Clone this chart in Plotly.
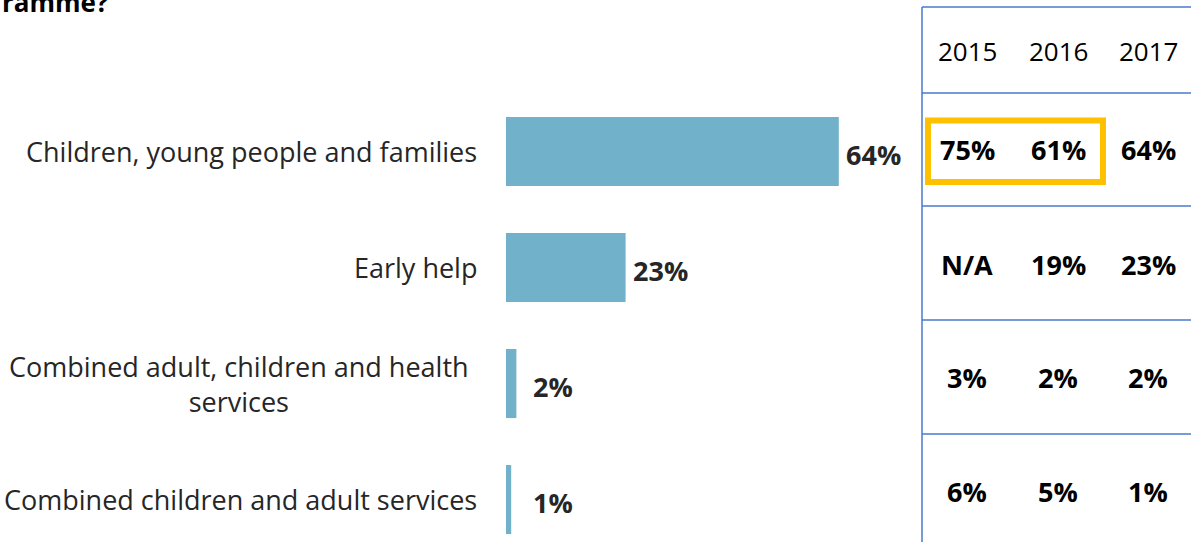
import plotly.graph_objects as go

# Survey data: share of respondents by service area
categories = [
    "Children, young people and families",
    "Early help",
    "Combined adult, children and health<br>services",
    "Combined children and adult services",
]
share_2017 = [64, 23, 2, 1]

# Year-on-year comparison table
years = ["2015", "2016", "2017"]
table_2015 = [75, None, 3, 6]
table_2016 = [61, 19, 2, 5]
table_2017 = [64, 23, 2, 1]

title_fragment = "ramme?"

W, H = 1191, 542
FONT = "Open Sans"
BAR_COLOR = "#71B1C9"
LINE_COLOR = "#4A78CC"
HIGHLIGHT = "#FFC000"
TEXT_DARK = "#262626"


def px(x):
    return x / W


def py(y):
    return 1 - y / H


fig = go.Figure()

fig.add_trace(go.Bar(
    x=share_2017,
    y=categories,
    orientation="h",
    width=0.595,
    marker=dict(color=BAR_COLOR, line=dict(width=0)),
    hoverinfo="skip",
))

annotations = []

# Category labels to the left of the bars
for cat in categories:
    multi = "<br>" in cat
    annotations.append(dict(
        x=px(479 - (8 if multi else 0)), xref="paper", xanchor="right",
        y=cat, yref="y", yanchor="middle",
        text=cat, showarrow=False, align="center",
        font=dict(family=FONT, size=27, color=TEXT_DARK),
    ))

# Value labels at the end of each bar
for cat, v in zip(categories, share_2017):
    annotations.append(dict(
        x=max(v, 3.8), xref="x", xanchor="left", xshift=5,
        y=cat, yref="y", yanchor="middle", yshift=-2.5,
        text=f"<b>{v}%</b>", showarrow=False,
        font=dict(family=FONT, size=27, color=TEXT_DARK),
    ))

# Table: headers and values
col_x = [967, 1058, 1148]
row_y = [149.5, 264, 377, 491]
for cx, yr in zip(col_x, years):
    annotations.append(dict(
        x=px(cx), xref="paper", xanchor="center",
        y=py(50.5), yref="paper", yanchor="middle",
        text=yr, showarrow=False,
        font=dict(family=FONT, size=26, color="#000000"),
    ))
for cx, col in zip(col_x, [table_2015, table_2016, table_2017]):
    for ry, v in zip(row_y, col):
        annotations.append(dict(
            x=px(cx), xref="paper", xanchor="center",
            y=py(ry), yref="paper", yanchor="middle",
            text=f"<b>{'N/A' if v is None else str(v) + '%'}</b>",
            showarrow=False,
            font=dict(family=FONT, size=27, color="#000000"),
        ))

# Title, partly outside the top edge
annotations.append(dict(
    x=0, xref="paper", xanchor="left",
    y=py(22), yref="paper", yanchor="bottom",
    text=f"<b>{title_fragment}</b>", showarrow=False,
    font=dict(family=FONT, size=26, color="#000000"),
))

shapes = []
# Table grid lines
shapes.append(dict(type="line", xref="paper", yref="paper",
                   x0=px(922), x1=px(922), y0=py(7), y1=py(H),
                   line=dict(color=LINE_COLOR, width=1.5)))
for ly in [7, 93, 206, 320, 434]:
    shapes.append(dict(type="line", xref="paper", yref="paper",
                       x0=px(922), x1=px(W), y0=py(ly), y1=py(ly),
                       line=dict(color=LINE_COLOR, width=1.5)))
# Highlight around 2015 and 2016 values of the first row
shapes.append(dict(type="rect", xref="paper", yref="paper",
                   x0=px(928), x1=px(1103), y0=py(120.5), y1=py(182),
                   line=dict(color=HIGHLIGHT, width=6)))

fig.update_layout(
    width=W, height=H,
    margin=dict(l=0, r=0, t=0, b=0),
    paper_bgcolor="white", plot_bgcolor="white",
    showlegend=False,
    xaxis=dict(domain=[px(506), px(922)], range=[0, 80],
               visible=False, fixedrange=True),
    yaxis=dict(domain=[0, py(93.5)], type="category",
               categoryorder="array", categoryarray=categories,
               range=[3.366, -0.5], visible=False, fixedrange=True),
    annotations=annotations,
    shapes=shapes,
)

fig.write_html("out.html", config={"displayModeBar": False})
